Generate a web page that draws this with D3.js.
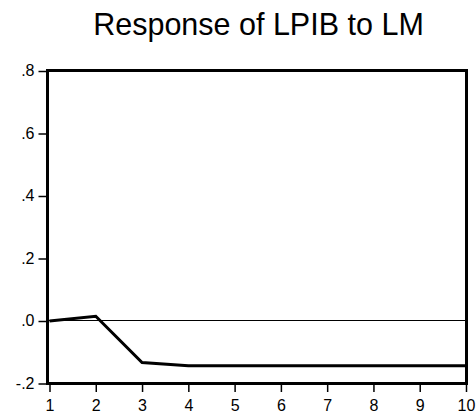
<!DOCTYPE html>
<html>
<head>
<meta charset="utf-8">
<script src="https://cdn.jsdelivr.net/npm/d3@7"></script>
<style>
  html, body { margin: 0; padding: 0; background: #fff; }
  svg { display: block; }
  text { font-family: "Liberation Sans", Arial, sans-serif; fill: #000; }
</style>
</head>
<body>
<svg id="chart" width="476" height="414"></svg>
<script>
const title = "Response of LPIB to LM";
const periods = [1, 2, 3, 4, 5, 6, 7, 8, 9, 10];
const response = [0.0, 0.015, -0.133, -0.143, -0.143, -0.143, -0.143, -0.143, -0.143, -0.143];
const yTicks = [-0.2, 0.0, 0.2, 0.4, 0.6, 0.8];
const yTickLabels = ["-.2", ".0", ".2", ".4", ".6", ".8"];
const xTicks = [1, 2, 3, 4, 5, 6, 7, 8, 9, 10];

const svg = d3.select("#chart");
const frame = { left: 47.5, right: 466.5, top: 70.5, bottom: 383.5 };

const x = d3.scaleLinear().domain([1, 10]).range([49.5, 466]);
const y = d3.scaleLinear().domain([-0.2, 0.8]).range([383.5, 71]);

// title
svg.append("text")
  .attr("x", 258.5)
  .attr("y", 35)
  .attr("text-anchor", "middle")
  .style("font-size", "30.5px")
  .text(title);

// zero line
svg.append("line")
  .attr("x1", frame.left).attr("x2", frame.right)
  .attr("y1", y(0) - 0.5).attr("y2", y(0) - 0.5)
  .attr("stroke", "#000").attr("stroke-width", 1);

// response line
const line = d3.line().x((d, i) => x(periods[i])).y(d => y(d));
svg.append("path")
  .datum(response)
  .attr("d", line)
  .attr("fill", "none")
  .attr("stroke", "#000")
  .attr("stroke-width", 3)
  .attr("stroke-linejoin", "miter");

// y axis
const yAxis = d3.axisLeft(y)
  .tickValues(yTicks)
  .tickFormat((d, i) => yTickLabels[i])
  .tickSize(9)
  .tickPadding(4);
const gy = svg.append("g").attr("transform", `translate(${frame.left},0)`).call(yAxis);
gy.attr("font-size", null).attr("font-family", null);
gy.select(".domain").remove();
gy.selectAll(".tick line").attr("stroke", "#000").attr("stroke-width", 1.5);
gy.selectAll(".tick text").style("font-size", "16px").attr("dy", "0.3em");

// x axis
const xAxis = d3.axisBottom(x)
  .tickValues(xTicks)
  .tickFormat(d3.format("d"))
  .tickSize(8.5)
  .tickPadding(7.5);
const gx = svg.append("g").attr("transform", `translate(0,${frame.bottom})`).call(xAxis);
gx.attr("font-size", null).attr("font-family", null);
gx.select(".domain").remove();
gx.selectAll(".tick line").attr("stroke", "#000").attr("stroke-width", 1.5);
gx.selectAll(".tick text").style("font-size", "16px");

// frame
svg.append("rect")
  .attr("x", frame.left).attr("y", frame.top)
  .attr("width", frame.right - frame.left)
  .attr("height", frame.bottom - frame.top)
  .attr("fill", "none")
  .attr("stroke", "#000")
  .attr("stroke-width", 3);
</script>
</body>
</html>
